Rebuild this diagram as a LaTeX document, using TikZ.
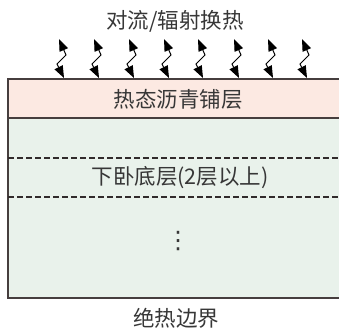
\documentclass[tikz,border=0pt]{standalone}
\usepackage{fontspec}
\setmainfont{Noto Sans CJK SC}
\newfontfamily\symfont{DejaVu Sans}
\usetikzlibrary{arrows.meta}
\definecolor{hotfill}{RGB}{252,233,226}
\definecolor{basefill}{RGB}{233,242,235}
\definecolor{edge}{RGB}{70,62,62}
\definecolor{txt}{RGB}{55,55,55}
\tikzset{
  lbl/.style={font=\fontsize{21.5}{23}\selectfont, text=txt, inner sep=0pt},
  flux/.style={draw=black, line width=1pt, {Triangle[length=12pt,width=9pt]}-{Triangle[length=12pt,width=9pt]}},
  border/.style={draw=edge, line width=1.4pt},
  sep/.style={draw=edge!70!black, line width=1.2pt, dash pattern=on 6pt off 3pt}
}
\begin{document}
\begin{tikzpicture}[x=1pt,y=-1pt]
\useasboundingbox (0,0) rectangle (339,329);
% layers
\fill[hotfill] (8,79) rectangle (341,118);
\fill[basefill] (8,118) rectangle (341,298);
\draw[border] (341,79) -- (8,79) -- (8,298) -- (341,298);
\draw[border] (8,118) -- (341,118);
\draw[sep] (8,158) -- (341,158);
\draw[sep] (8,197) -- (341,197);
% texts
\node[lbl] (title) at (175,21) {对流/辐射换热};
\node[lbl] (hot) at (178,99) {热态沥青铺层};
\node[lbl] (base) at (180,178) {下卧底层(2层以上)};
\node[lbl, font=\symfont\fontsize{24}{26}\selectfont] (dots) at (178,241) {⋮};
\node[lbl] (bottom) at (176,318) {绝热边界};
% flux arrows
\foreach \x [count=\i] in {62,97,132,167,201,237,271,305} {
  \coordinate (t\i) at (\x-3,39);
  \coordinate (m\i) at (\x+4,55);
  \coordinate (n\i) at (\x-5,64);
  \coordinate (b\i) at (\x+2,78);
  \draw[flux] (t\i) -- (m\i) -- (n\i) -- (b\i);
}
\end{tikzpicture}
\end{document}
